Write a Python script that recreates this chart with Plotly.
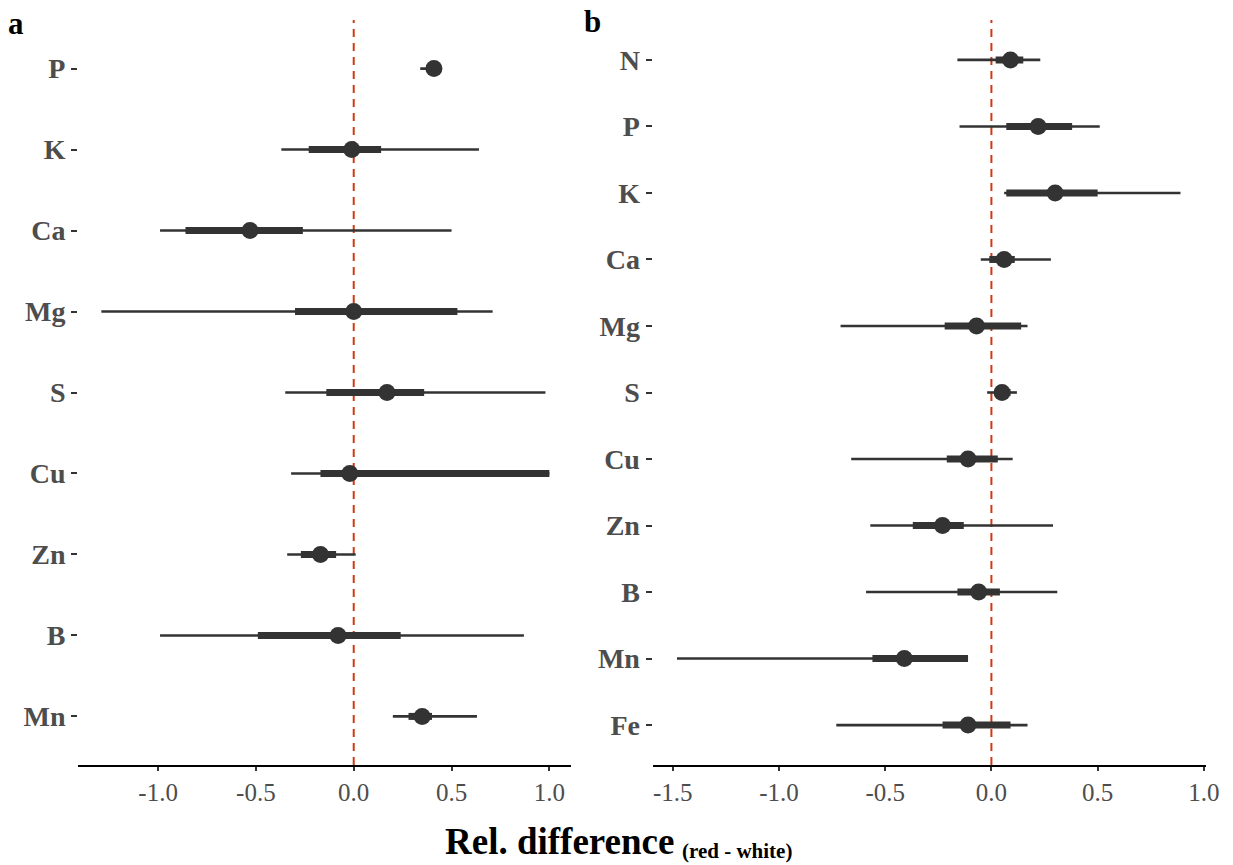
import plotly.graph_objects as go

# ---------------- data ----------------
# Panel a
a_cats = ["P", "K", "Ca", "Mg", "S", "Cu", "Zn", "B", "Mn"]
a_med = [0.41, -0.01, -0.53, 0.00, 0.17, -0.02, -0.17, -0.08, 0.35]
a_thin_lo = [0.34, -0.37, -0.99, -1.29, -0.35, -0.32, -0.34, -0.99, 0.20]
a_thin_hi = [0.44, 0.64, 0.50, 0.71, 0.98, 1.00, 0.01, 0.87, 0.63]
a_thick_lo = [0.37, -0.23, -0.86, -0.30, -0.14, -0.17, -0.27, -0.49, 0.28]
a_thick_hi = [0.44, 0.14, -0.26, 0.53, 0.36, 1.00, -0.09, 0.24, 0.40]

# Panel b
b_cats = ["N", "P", "K", "Ca", "Mg", "S", "Cu", "Zn", "B", "Mn", "Fe"]
b_med = [0.09, 0.22, 0.30, 0.06, -0.07, 0.05, -0.11, -0.23, -0.06, -0.41, -0.11]
b_thin_lo = [-0.16, -0.15, 0.06, -0.05, -0.71, -0.02, -0.66, -0.57, -0.59, -1.48, -0.73]
b_thin_hi = [0.23, 0.51, 0.89, 0.28, 0.17, 0.12, 0.10, 0.29, 0.31, -0.11, 0.17]
b_thick_lo = [0.02, 0.07, 0.07, -0.01, -0.22, 0.02, -0.21, -0.37, -0.16, -0.56, -0.23]
b_thick_hi = [0.15, 0.38, 0.50, 0.11, 0.14, 0.09, 0.03, -0.13, 0.04, -0.11, 0.09]

x_ticks_a = [-1.0, -0.5, 0.0, 0.5, 1.0]
x_ticks_b = [-1.5, -1.0, -0.5, 0.0, 0.5, 1.0]

# ---------------- style ----------------
W, H = 1233, 865
WX = 1219  # horizontal pixel basis for paper fractions
MARK = "#333333"
REF = "#D03A12"
GREY = "#4D4D4D"
SERIF = "Liberation Serif"

def seg(cats, lo, hi):
    xs, ys = [], []
    for c, l, h in zip(cats, lo, hi):
        xs += [l, h, None]
        ys += [c, c, None]
    return xs, ys

fig = go.Figure()

panels = [
    ("x", "y", a_cats, a_med, a_thin_lo, a_thin_hi, a_thick_lo, a_thick_hi),
    ("x2", "y2", b_cats, b_med, b_thin_lo, b_thin_hi, b_thick_lo, b_thick_hi),
]
for xa, ya, cats, med, tlo, thi, klo, khi in panels:
    xs, ys = seg(cats, tlo, thi)
    fig.add_trace(go.Scatter(x=xs, y=ys, mode="lines", xaxis=xa, yaxis=ya,
                             line=dict(color=MARK, width=2.6), showlegend=False,
                             hoverinfo="skip"))
    xs, ys = seg(cats, klo, khi)
    fig.add_trace(go.Scatter(x=xs, y=ys, mode="lines", xaxis=xa, yaxis=ya,
                             line=dict(color=MARK, width=7), showlegend=False,
                             hoverinfo="skip"))
    fig.add_trace(go.Scatter(x=med, y=cats, mode="markers", xaxis=xa, yaxis=ya,
                             marker=dict(color=MARK, size=17, line=dict(width=0)),
                             showlegend=False))

# reference lines at zero
for xa, ya in [("x", "y"), ("x2", "y2")]:
    fig.add_shape(type="line", xref=xa, yref=ya + " domain", x0=0, x1=0, y0=0, y1=1,
                  line=dict(color=REF, width=2, dash="8px,6px"), layer="below")

yb, yt = 1 - 765 / H, 1 - 20 / H

def xaxis_cfg(dom, rng, ticks):
    return dict(domain=dom, range=rng, tickvals=ticks,
                ticktext=[f"{t:.1f}" for t in ticks],
                showline=True, linecolor="black", linewidth=2,
                ticks="outside", ticklen=4, tickwidth=1.5, tickcolor="#333333",
                showgrid=False, zeroline=False,
                tickfont=dict(family=SERIF, size=25, color=GREY))

def yaxis_cfg(cats, anchor):
    n = len(cats)
    return dict(domain=[yb, yt], type="category", categoryorder="array",
                categoryarray=cats, range=[n - 1 + 0.6, -0.6], anchor=anchor,
                showline=False, showgrid=False, zeroline=False,
                ticks="outside", ticklen=6, tickwidth=1.5, tickcolor="#333333",
                tickfont=dict(family=SERIF, size=28, color=GREY, weight="bold"))

fig.update_layout(
    width=W, height=H, autosize=False,
    margin=dict(l=0, r=0, t=0, b=0),
    paper_bgcolor="white", plot_bgcolor="white",
    font=dict(family=SERIF),
    xaxis=xaxis_cfg([78 / WX, 571 / WX], [-1.409, 1.113], x_ticks_a) | dict(anchor="y"),
    yaxis=yaxis_cfg(a_cats, "x"),
    xaxis2=xaxis_cfg([652 / WX, 1205 / WX], [-1.595, 1.010], x_ticks_b) | dict(anchor="y2"),
    yaxis2=yaxis_cfg(b_cats, "x2"),
    annotations=[
        dict(text="<b>a</b>", x=6 / WX, y=1 - 24 / H, xref="paper", yref="paper",
             xanchor="left", yanchor="middle", showarrow=False,
             font=dict(family=SERIF, size=31, color="black")),
        dict(text="<b>b</b>", x=582 / WX, y=1 - 21 / H, xref="paper", yref="paper",
             xanchor="left", yanchor="middle", showarrow=False,
             font=dict(family=SERIF, size=31, color="black")),
        dict(text="<b>Rel. difference</b>",
             x=675 / WX, y=1 - 841 / H, xref="paper", yref="paper",
             xanchor="right", yanchor="middle", showarrow=False,
             font=dict(family=SERIF, size=37, color="black")),
        dict(text="<b>(red - white)</b>",
             x=679 / WX, y=1 - 851 / H, xref="paper", yref="paper",
             xanchor="left", yanchor="middle", showarrow=False,
             font=dict(family=SERIF, size=21, color="black")),
    ],
)

fig.write_html("out.html", config={"responsive": False})
